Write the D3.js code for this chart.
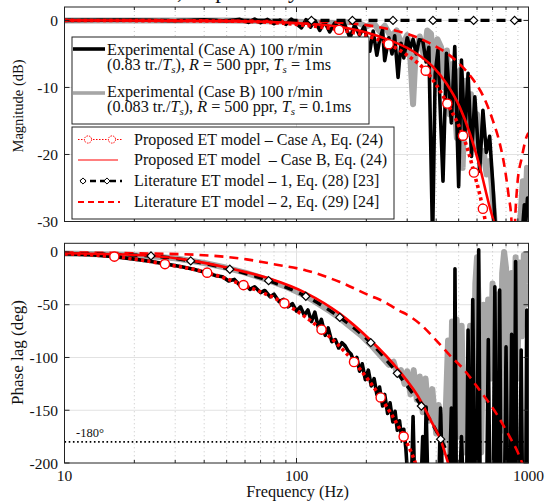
<!DOCTYPE html>
<html><head><meta charset="utf-8">
<script src="https://cdn.jsdelivr.net/npm/d3@7"></script>
<style>
body{margin:0;background:#fff;}
svg text{font-family:"Liberation Serif","Times New Roman",serif;fill:#111;}
</style></head><body>
<svg id="c" width="545" height="503"></svg>
<script>
// ---------------- data (frequency in Hz, value) ----------------
const xTicks = [10, 100, 1000];
const xMinor = [20,30,40,50,60,70,80,90,200,300,400,500,600,700,800,900];
const magTicks = [0, -10, -20, -30];
const phaseTicks = [0, -50, -100, -150, -200];

// Magnitude (dB)
const magExpA = [[10,0],[20,0.05],[30,-0.05],[40,0.1],[50,-0.1],[57,0.15],[62,-0.3],[66,0.2],[70,-0.35],[75,0.15],[80,-0.5],[85,0.05],[90,-0.6],[95,0.2],[100,-0.5],[105,-1.1],[110,0.1],[115,-1.0],[120,0],[126,-1.5],[132,-0.2],[139,-1.7],[146,-0.4],[153,-1.3],[160,-0.3],[170,-2.6],[178,-0.7],[187,-2.2],[196,-0.9],[207,-4.6],[214,-1.6],[222,-5.2],[228,-3.0],[235,-1.4],[240,-6.0],[250,-2.6],[258,-5.0],[265,-2.3],[274,-8.5],[282,-3.4],[290,-5.6],[300,-2.6],[309,-4.2],[318,-2.8],[328,-5.0],[338,-2.9],[350,-3.0],[362,-6.2],[372,-4.0],[386,-33],[396,-8],[407,-4.4],[428,-24],[443,-4.9],[465,-15.3],[481,-3.9],[500,-24.8],[514,-5.9],[531,-17.3],[549,-7.9],[568,-20.3],[587,-11.4],[616,-22.5],[636,-13.4],[658,-19.7],[680,-17.3],[703,-24.8],[726,-33],[900,-36],[945,-30.5],[960,-27.5],[975,-29.8],[990,-26.5],[1000,-27]];
const magExpB = [[10,0],[50,0],[100,-0.2],[150,-0.4],[180,-0.2],[200,-0.9],[215,-0.4],[228,-1.6],[240,-0.8],[255,-2.4],[270,-1.5],[285,-3.8],[300,-2.2],[310,-6],[318,-12.5],[326,-5],[340,-2.4],[355,-5.5],[366,-1.5],[380,-2.0],[392,-8.6],[405,-2.8],[420,-4],[433,-10],[445,-4.5],[458,-14],[470,-6.5],[480,-12],[491,-17.5],[505,-7.5],[520,-22],[535,-9],[550,-17],[565,-11],[580,-19],[600,-14],[620,-21],[640,-19.5],[660,-23],[680,-21],[700,-26],[725,-33],[880,-34],[925,-29],[945,-24],[965,-30],[985,-22],[1000,-24]];
const magModelA = [[10,0],[50,-0.1],[100,-0.6],[152.6,-1.4],[200,-2.3],[249.7,-3.55],[300,-5.2],[360.6,-7.5],[400,-9.6],[446.7,-12.4],[490,-15.0],[521.9,-17.2],[555,-20.0],[582,-22.7],[610,-25.3],[636,-28.1],[660,-31]];
const magModelAMarks = [[152.6,-1.4],[249.7,-3.55],[360.6,-7.5],[446.7,-12.4],[521.9,-17.2],[582,-22.7],[636,-28.1]];
const magModelB = [[10,0],[50,-0.1],[100,-0.4],[150,-0.9],[200,-1.8],[250,-2.9],[318,-4.6],[387,-6.9],[443,-9.4],[505,-12.9],[558,-16.8],[616,-21.8],[680,-27.8],[715,-30.5]];
const magLit1 = [[10,0],[1000,0]];
const magLit1Marks = [[116,0],[174.2,0],[260.6,0],[387.5,0],[580,0],[871,0]];
const magLit2 = [[10,0],[100,-0.1],[150,-0.3],[200,-0.7],[250,-1.3],[300,-2.0],[375,-3.4],[487,-6.0],[579,-8.9],[636,-11.2],[703,-15.0],[750,-18.2],[790,-22],[820,-26],[845,-30],[860,-38],[875,-30],[895,-24.5],[935,-20.5],[985,-17.2],[1000,-16.8]];

// Phase lag (deg)
const phExpA = [[10,-1.6],[13,-2.6],[16.4,-4.4],[20,-6.8],[24,-9.2],[27.1,-11.3],[32,-14],[36,-16.4],[41,-19.6],[45,-22.5],[48,-23.5],[51,-27.5],[54,-26],[57,-31.5],[60,-30],[63,-35.5],[66,-33],[70,-38.5],[73,-36.5],[77,-42.5],[80,-40],[84,-47],[88,-45],[92,-52],[96,-49],[100,-56],[104,-52],[108,-60],[112,-55],[116,-66],[120,-57],[124,-71],[128,-64],[133,-79],[137,-72],[142,-85],[147,-83],[152,-91],[157,-86],[162,-89],[167,-94],[172,-97],[177,-104],[182,-100],[187,-113],[192,-106],[198,-121],[204,-112],[210,-127],[216,-120],[222,-135],[228,-128],[235,-146],[240,-135],[247,-153],[253,-143],[260,-161],[266,-151],[272,-169],[278,-160],[284,-176],[290,-168],[296,-186],[300,-206],[314,-206],[318,-156],[322,-206],[346,-206],[350,-175],[355,-206],[358,-206],[362,-147],[367,-206],[412,-206],[418,-148],[424,-206],[458,-206],[465,-148],[471,-206],[478,-206],[482,-16],[488,-206],[508,-206],[514,-175],[520,-206],[542,-206],[549,-74],[556,-206],[565,-206],[575,-45],[585,-206],[600,-206],[610,2],[618,-206],[662,-206],[671,-83],[680,-206],[706,-206],[716,-33],[726,-206],[742,-206],[751,-36],[760,-206],[790,-206],[800,-90],[810,-206],[836,-206],[846,-78],[856,-206],[870,-206],[880,-9],[890,-206],[920,-206],[930,-93],[940,-206],[974,-206],[983,-55],[993,-206]];
const phExpB = [[10,-1.5],[20,-3],[30,-6],[40,-10.5],[50,-15],[60,-19.5],[75,-26.5],[90,-33],[100,-37.5],[110,-42],[125,-49.5],[140,-56.5],[154,-63],[170,-70.5],[190,-79],[209,-88],[230,-98],[250,-107],[262,-104],[272,-116],[282,-112],[292,-125],[300,-113],[310,-135],[320,-112],[330,-140],[340,-118],[350,-152],[360,-120],[372,-160],[385,-130],[400,-172],[410,-145],[425,-190],[440,-150],[450,-84],[458,-200],[468,-66],[478,-200],[490,-64],[502,-175],[515,-70],[528,-190],[545,-150],[560,-70],[575,-180],[590,-30],[600,-5],[612,-60],[625,-190],[640,-50],[655,-140],[670,-45],[685,-120],[700,-30],[720,-100],[740,-40],[755,-170],[770,-20],[785,0],[800,-15],[815,-120],[830,-200],[845,-20],[860,-130],[880,-5],[895,-120],[915,-10],[935,-80],[955,-3],[970,-50],[985,-2],[1000,-30]];
const phModelA = [[10,-1.8],[16.4,-4.4],[27.1,-11.5],[41.2,-19.6],[59.1,-31.4],[88.7,-48.7],[128.2,-73.6],[177,-104.3],[230.6,-137.9],[289.7,-175],[323,-198],[330,-204]];
const phModelAMarks = [[16.4,-4.4],[27.1,-11.5],[41.2,-19.6],[59.1,-31.4],[88.7,-48.7],[128.2,-73.6],[177,-104.3],[230.6,-137.9],[289.7,-175]];
const phModelB = [[10,-1.3],[23.6,-3.6],[35,-8],[51.6,-15.5],[75.8,-25],[110,-39],[154,-58.7],[207,-83],[273,-111],[345,-142],[380,-160],[418,-178],[450,-200],[460,-207]];
const phLit1 = [[10,-1.5],[23.6,-3.8],[35,-8.5],[51.6,-16.4],[75.8,-27.2],[109.7,-42],[153.7,-62],[209,-86],[272,-115],[345.3,-146],[418.2,-177.4],[450,-192],[470,-203]];
const phLit1Marks = [[23.6,-3.8],[35,-8.5],[51.6,-16.4],[75.8,-27.2],[109.7,-42],[153.7,-62],[209,-86],[272,-115],[345.3,-146],[418.2,-177.4]];
const phLit2 = [[10,-0.5],[20,-1.2],[38,-2.8],[61,-7],[79,-11.4],[110,-17.5],[154,-28.5],[213,-42.5],[228,-45],[279,-56],[297,-59],[340,-68],[401,-84],[465,-99.5],[522,-110.5],[616,-131],[726,-153],[829,-175],[900,-190],[940,-200],[960,-204]];
const phRef = -180;

// ---------------- drawing ----------------
const svg = d3.select('#c');
const RED = '#ff0000', GRAY = '#a6a6a6';
const L = 64.5, R = 528.5;
const x = d3.scaleLog().domain([10, 1000]).range([L, R]);
const yM = d3.scaleLinear().domain([-30, 2]).range([221.5, 7]);
const yP = d3.scaleLinear().domain([-200, 8.2]).range([463, 243.3]);

// clipped title fragment from above
svg.append('text').attr('x', 177).attr('y', -2).attr('font-size', 23).text(', respectively');

function panel(y, ticks, id, showXLabels) {
  const [y0, y1] = y.range(); // bottom, top
  const g = svg.append('g');
  svg.append('defs').append('clipPath').attr('id', id)
    .append('rect').attr('x', L).attr('y', y1).attr('width', R - L).attr('height', y0 - y1);
  g.selectAll('.hg').data(ticks.filter(t => y(t) > y1 + 1 && y(t) < y0 - 1)).enter().append('line')
    .attr('x1', L).attr('x2', R).attr('y1', d => y(d)).attr('y2', d => y(d))
    .attr('stroke', '#e2e2e2').attr('stroke-width', 1);
  g.selectAll('.vg').data(xMinor).enter().append('line')
    .attr('x1', d => x(d)).attr('x2', d => x(d)).attr('y1', y1).attr('y2', y0)
    .attr('stroke', '#c4c4c4').attr('stroke-width', 1).attr('stroke-dasharray', '1 3');
  g.append('line').attr('x1', x(100)).attr('x2', x(100)).attr('y1', y1).attr('y2', y0)
    .attr('stroke', '#e2e2e2').attr('stroke-width', 1);
  const plot = svg.append('g').attr('clip-path', `url(#${id})`);
  return {plot, y, y0, y1, showXLabels, ticks};
}

function frame(p) {
  const {y, y0, y1, ticks} = p;
  const g = svg.append('g').attr('stroke', '#222').attr('stroke-width', 1).attr('fill', 'none');
  g.append('rect').attr('x', L).attr('y', y1).attr('width', R - L).attr('height', y0 - y1);
  xTicks.forEach(t => {
    g.append('line').attr('x1', x(t)).attr('x2', x(t)).attr('y1', y0).attr('y2', y0 - 5);
    g.append('line').attr('x1', x(t)).attr('x2', x(t)).attr('y1', y1).attr('y2', y1 + 5);
  });
  xMinor.forEach(t => {
    g.append('line').attr('x1', x(t)).attr('x2', x(t)).attr('y1', y0).attr('y2', y0 - 3);
    g.append('line').attr('x1', x(t)).attr('x2', x(t)).attr('y1', y1).attr('y2', y1 + 3);
  });
  ticks.forEach(t => {
    g.append('line').attr('x1', L).attr('x2', L + 5).attr('y1', y(t)).attr('y2', y(t));
    g.append('line').attr('x1', R).attr('x2', R - 5).attr('y1', y(t)).attr('y2', y(t));
  });
  const tg = svg.append('g').attr('font-size', 15.5);
  ticks.forEach(t => {
    tg.append('text').attr('x', 58).attr('y', y(t) + 5.5).attr('text-anchor', 'end').text(t);
  });
  if (p.showXLabels) {
    xTicks.forEach(t => {
      tg.append('text').attr('x', x(t)).attr('y', 481).attr('text-anchor', 'middle').text(t);
    });
  }
}

const lin = (y, curve) => d3.line().x(d => x(d[0])).y(d => y(d[1])).curve(curve || d3.curveLinear);

function drawAll(p, s) {
  const {plot, y} = p;
  plot.append('path').attr('d', lin(y)(s.expB)).attr('fill', 'none').attr('stroke', GRAY)
    .attr('stroke-width', 6).attr('stroke-linejoin', 'round');
  plot.append('path').attr('d', lin(y)(s.expA)).attr('fill', 'none').attr('stroke', '#000')
    .attr('stroke-width', 3.6).attr('stroke-linejoin', 'round');
  if (s.ref !== undefined) {
    plot.append('line').attr('x1', L).attr('x2', R).attr('y1', y(s.ref)).attr('y2', y(s.ref))
      .attr('stroke', '#000').attr('stroke-width', 1.6).attr('stroke-dasharray', '1.6 2.6');
  }
  plot.append('path').attr('d', lin(y, d3.curveMonotoneX)(s.lit2)).attr('fill', 'none').attr('stroke', RED)
    .attr('stroke-width', 2.6).attr('stroke-dasharray', '9 6');
  plot.append('path').attr('d', lin(y, d3.curveMonotoneX)(s.lit1)).attr('fill', 'none').attr('stroke', '#000')
    .attr('stroke-width', 3.4).attr('stroke-dasharray', '9 7');
  plot.append('path').attr('d', lin(y, d3.curveMonotoneX)(s.modB)).attr('fill', 'none').attr('stroke', RED)
    .attr('stroke-width', 2.6);
  plot.append('path').attr('d', lin(y, d3.curveMonotoneX)(s.modA)).attr('fill', 'none').attr('stroke', RED)
    .attr('stroke-width', 3.6).attr('stroke-dasharray', '3.2 3.2');
  plot.selectAll(null).data(s.lit1Marks).enter().append('path')
    .attr('d', d3.symbol().type(d3.symbolDiamond2).size(42))
    .attr('transform', d => `translate(${x(d[0])},${y(d[1])})`)
    .attr('fill', '#fff').attr('stroke', '#000').attr('stroke-width', 1.2);
  plot.selectAll(null).data(s.modAMarks).enter().append('circle')
    .attr('cx', d => x(d[0])).attr('cy', d => y(d[1])).attr('r', 4.6)
    .attr('fill', '#fff').attr('stroke', RED).attr('stroke-width', 1.4);
}

const pm = panel(yM, magTicks, 'clipM', false);
drawAll(pm, {expA: magExpA, expB: magExpB, lit2: magLit2, lit1: magLit1, modB: magModelB, modA: magModelA,
  lit1Marks: magLit1Marks, modAMarks: magModelAMarks});
const pp = panel(yP, phaseTicks, 'clipP', true);
drawAll(pp, {expA: phExpA, expB: phExpB, lit2: phLit2, lit1: phLit1, modB: phModelB, modA: phModelA,
  lit1Marks: phLit1Marks, modAMarks: phModelAMarks, ref: phRef});
frame(pm);
frame(pp);

svg.append('text').attr('x', 76).attr('y', yP(phRef) - 5).attr('font-size', 12.5).text('-180°');

// axis titles
svg.append('text').attr('transform', 'translate(23,106) rotate(-90)').attr('text-anchor', 'middle')
  .attr('font-size', 14.5).text('Magnitude (dB)');
svg.append('text').attr('transform', 'translate(23,352.5) rotate(-90)').attr('text-anchor', 'middle')
  .attr('font-size', 17).text('Phase lag (deg)');
svg.append('text').attr('x', 297.5).attr('y', 497).attr('text-anchor', 'middle')
  .attr('font-size', 16.3).text('Frequency (Hz)');

// ---------------- legends ----------------
const lg1 = svg.append('g');
lg1.append('rect').attr('x', 72).attr('y', 37).attr('width', 297).attr('height', 87)
  .attr('fill', '#fff').attr('stroke', '#222').attr('stroke-width', 1);
lg1.append('line').attr('x1', 73).attr('x2', 105).attr('y1', 49).attr('y2', 49).attr('stroke', '#000').attr('stroke-width', 3.6);
lg1.append('line').attr('x1', 73).attr('x2', 105).attr('y1', 93).attr('y2', 93).attr('stroke', GRAY).attr('stroke-width', 3.6);
const FS1 = 16.2;
function addText(g, xx, yy, parts, fs) {
  const t = g.append('text').attr('x', xx).attr('y', yy).attr('font-size', fs).attr('xml:space', 'preserve');
  parts.forEach(p => {
    const ts = t.append('tspan').text(p.t);
    if (p.i) ts.attr('font-style', 'italic');
    if (p.sub) ts.attr('font-size', fs * 0.68).attr('dy', 3);
    if (p.up) ts.attr('dy', -3);
  });
}
addText(lg1, 107, 55, [{t: 'Experimental (Case A) 100 r/min'}], FS1);
addText(lg1, 107, 70, [{t: '(0.83 tr./'}, {t: 'T', i: 1}, {t: 's', i: 1, sub: 1}, {t: '), ', up: 1}, {t: 'R', i: 1},
  {t: ' = 500 ppr, '}, {t: 'T', i: 1}, {t: 's', i: 1, sub: 1}, {t: ' = 1ms', up: 1}], FS1);
addText(lg1, 107, 97, [{t: 'Experimental (Case B) 100 r/min'}], FS1);
addText(lg1, 107, 112, [{t: '(0.083 tr./'}, {t: 'T', i: 1}, {t: 's', i: 1, sub: 1}, {t: '), ', up: 1}, {t: 'R', i: 1},
  {t: ' = 500 ppr, '}, {t: 'T', i: 1}, {t: 's', i: 1, sub: 1}, {t: ' = 0.1ms', up: 1}], FS1);

const lg2 = svg.append('g');
lg2.append('rect').attr('x', 72).attr('y', 127).attr('width', 322).attr('height', 92)
  .attr('fill', '#fff').attr('stroke', '#222').attr('stroke-width', 1);
const legRows = [
  {y: 139.5, type: 'modA', label: 'Proposed ET model – Case A, Eq. (24)'},
  {y: 160, type: 'modB', label: 'Proposed ET model  – Case B, Eq. (24)'},
  {y: 181, type: 'lit1', label: 'Literature ET model – 1, Eq. (28) [23]'},
  {y: 202, type: 'lit2', label: 'Literature ET model – 2, Eq. (29) [24]'}
];
legRows.forEach(r => {
  if (r.type === 'modA') {
    lg2.append('line').attr('x1', 78).attr('x2', 122).attr('y1', r.y).attr('y2', r.y).attr('stroke', RED)
      .attr('stroke-width', 1.2).attr('stroke-dasharray', '1.5 1.5');
    [88, 112].forEach(cx => lg2.append('circle').attr('cx', cx).attr('cy', r.y).attr('r', 3.6)
      .attr('fill', '#fff').attr('stroke', RED).attr('stroke-width', 1).attr('stroke-dasharray', '1.5 1'));
  } else if (r.type === 'modB') {
    lg2.append('line').attr('x1', 78).attr('x2', 118).attr('y1', r.y).attr('y2', r.y).attr('stroke', RED).attr('stroke-width', 1.2);
  } else if (r.type === 'lit1') {
    lg2.append('line').attr('x1', 78).attr('x2', 122).attr('y1', r.y).attr('y2', r.y).attr('stroke', '#000')
      .attr('stroke-width', 2.4).attr('stroke-dasharray', '6 4').attr('stroke-dashoffset', -2);
    [83, 107].forEach(cx => lg2.append('path').attr('d', d3.symbol().type(d3.symbolDiamond2).size(24))
      .attr('transform', `translate(${cx},${r.y})`).attr('fill', '#fff').attr('stroke', '#000').attr('stroke-width', 1));
  } else {
    lg2.append('line').attr('x1', 78).attr('x2', 120).attr('y1', r.y).attr('y2', r.y).attr('stroke', RED)
      .attr('stroke-width', 1.8).attr('stroke-dasharray', '6 4');
  }
  addText(lg2, 134, r.y + 5, [{t: r.label}], 16);
});
</script>
</body></html>
